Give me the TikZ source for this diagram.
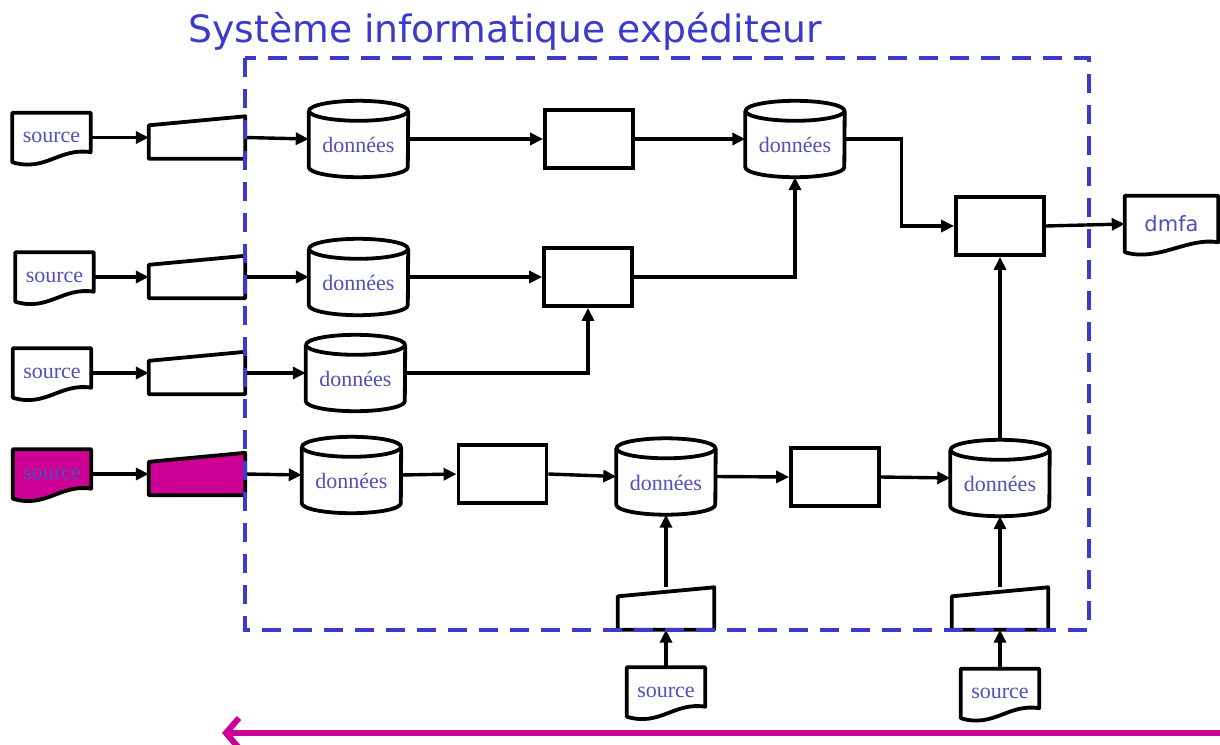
\documentclass[tikz,border=0pt]{standalone}
\usepackage{fontspec}
\newfontfamily\srcfont{Liberation Serif}
\newfontfamily\sysfont{DejaVu Sans}
\usetikzlibrary{arrows.meta,positioning,calc,backgrounds}

\definecolor{sysblue}{RGB}{58,58,204}
\definecolor{labelblue}{RGB}{80,80,185}
\definecolor{hilite}{RGB}{205,0,150}

\tikzset{
  shapeline/.style={line width=3.8pt, line join=round},
  flow/.style={line width=3.4pt, -{Triangle[length=13pt,width=12pt]}},
  % document (source / dmfa)
  docu/.style={inner sep=0pt, minimum width=78pt, minimum height=49pt, text=labelblue,
    font=\srcfont\fontsize{22}{24}\selectfont,
    append after command={\pgfextra{\begin{pgfonlayer}{background}
      \filldraw[shapeline, fill=#1] (\tikzlastnode.north west) -- (\tikzlastnode.north east)
        -- ($(\tikzlastnode.south east)+(0,-10)$)
        .. controls +(-31,-5) and +(33,10) .. (\tikzlastnode.south west) -- cycle;
      \end{pgfonlayer}}}},
  docu/.default=white,
  % manual input
  manin/.style={inner sep=0pt, minimum width=96pt, minimum height=42pt,
    append after command={\pgfextra{\begin{pgfonlayer}{background}
      \filldraw[shapeline, fill=#1] (\tikzlastnode.south west) -- ($(\tikzlastnode.north west)+(0,9)$)
        -- (\tikzlastnode.north east) -- (\tikzlastnode.south east) -- cycle;
      \end{pgfonlayer}}}},
  manin/.default=white,
  % data store
  store/.style={inner sep=0pt, minimum width=99pt, minimum height=76pt, text=labelblue,
    font=\srcfont\fontsize{22}{24}\selectfont, text height=27pt, text depth=0pt,
    append after command={\pgfextra{\begin{pgfonlayer}{background}
      \filldraw[shapeline, fill=white] ($(\tikzlastnode.north west)+(0,10)$) -- ($(\tikzlastnode.south west)+(0,-10)$)
        arc[start angle=180, end angle=0, x radius=49.5, y radius=10] -- ($(\tikzlastnode.north east)+(0,10)$);
      \draw[shapeline] ($(\tikzlastnode.north)+(0,10)$) ellipse[x radius=49.5, y radius=10];
      \end{pgfonlayer}}}},
  proc/.style={draw, line width=3.8pt, fill=white, inner sep=0pt, minimum width=88pt, minimum height=58pt},
  sysbox/.style={draw=sysblue, line width=4pt, dash pattern=on 19pt off 12pt},
}

\begin{document}
\begin{tikzpicture}[x=1pt, y=-1pt]
    \useasboundingbox (0,0) rectangle (1220,744);

    \node[text=sysblue, font=\sysfont\fontsize{37.7}{40}\selectfont, anchor=base] (title) at (505,42) {Système informatique expéditeur};

    % entry rows
    \node[docu] (src1) at (51.5,137.5) {source};
    \node[docu] (src2) at (54.5,277) {source};
    \node[docu] (src3) at (52,373) {source};
    \node[docu=hilite] (src4) at (52,474) {source};
    \node[manin] (man1) at (197,137.5) {};
    \node[manin] (man2) at (197,277) {};
    \node[manin] (man3) at (197,373) {};
    \node[manin=hilite] (man4) at (197,474) {};

    \node[store] (dat1) at (358.5,139) {données};
    \node[store] (dat2) at (358.5,277) {données};
    \node[store] (dat3) at (355.5,373) {données};
    \node[store] (dat4) at (351.5,475) {données};
    \node[store] (dat5) at (666,476.5) {données};
    \node[store] (dat6) at (1000,478) {données};
    \node[store] (dat7) at (795,139) {données};

    \node[proc] (proc1) at (589,139) {};
    \node[proc] (proc2) at (588,277) {};
    \node[proc] (proc3) at (502.5,474) {};
    \node[proc] (proc4) at (835,477) {};
    \node[proc] (proc5) at (1000,226) {};

    % bottom inputs
    \node[manin] (man5) at (666,608.5) {};
    \node[manin] (man6) at (1000,608.5) {};
    \node[docu] (src5) at (666,692) {source};
    \node[docu] (src6) at (1000,693.5) {source};

    \node[docu, minimum width=93pt, minimum height=56pt, font=\sysfont\fontsize{21}{24}\selectfont] (dmfa) at (1171.5,224) {dmfa};

    \foreach \r in {1,...,4} {
        \draw[flow] (src\r.east) -- (man\r.west);
        \draw[flow] (man\r.east) -- (dat\r.west);
    }
    \draw[flow] (dat1.east) -- (proc1.west);
    \draw[flow] (proc1.east) -- (dat7.west);
    \draw[flow] (dat7.east) -- ++(57,0) |- (proc5.west);
    \draw[flow] (dat2.east) -- (proc2.west);
    \draw[flow] (proc2.east) -| (dat7.south);
    \draw[flow] (dat3.east) -| (proc2.south);
    \draw[flow] (dat4.east) -- (proc3.west);
    \draw[flow] (proc3.east) -- (dat5.west);
    \draw[flow] (dat5.east) -- (proc4.west);
    \draw[flow] (proc4.east) -- (dat6.west);
    \draw[flow] (dat6.north) -- (proc5.south);
    \draw[flow] (proc5.east) -- (dmfa.west);
    \draw[flow] (src5.north) -- (man5.south);
    \draw[flow] (man5.north) -- (dat5.south);
    \draw[flow] (src6.north) -- (man6.south);
    \draw[flow] (man6.north) -- (dat6.south);

    % system boundary
    \draw[sysbox] (245,58) rectangle (1089,630);

    % return arrow
    \coordinate (backfrom) at (1220,733);
    \coordinate (backto) at (222,733);
    \draw[hilite, line width=6pt, -{Straight Barb[length=13pt,width=30pt]}] (backfrom) -- (backto);
\end{tikzpicture}
\end{document}
